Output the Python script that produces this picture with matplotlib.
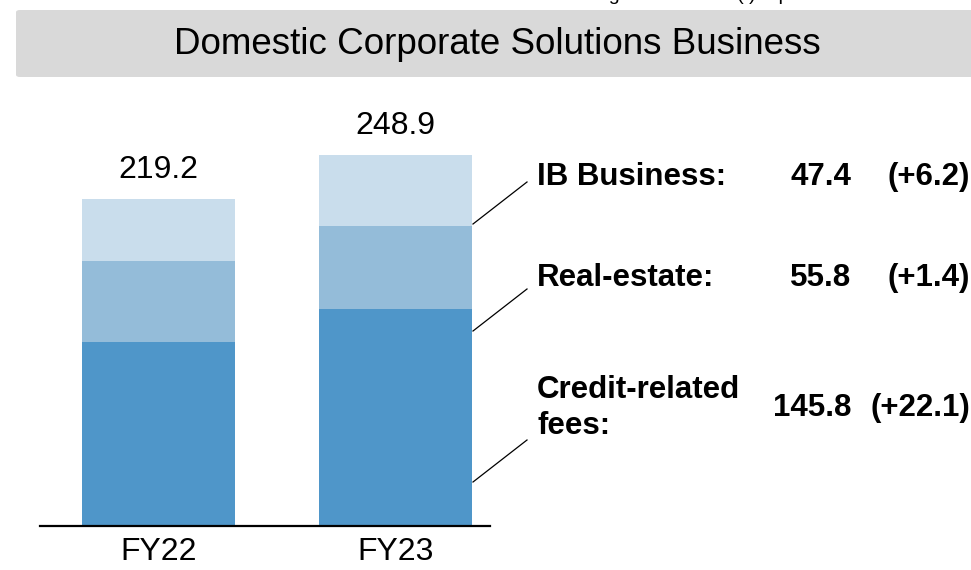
import numpy as np
import matplotlib
matplotlib.use("Agg")
import matplotlib.pyplot as plt
from matplotlib.patches import FancyBboxPatch

plt.rcParams['font.family'] = ['Liberation Sans', 'DejaVu Sans']

# data (billions of yen)
years = ["FY22", "FY23"]
segments = ["Credit-related fees", "Real-estate", "IB Business"]
credit = [123.7, 145.8]
real_estate = [54.4, 55.8]
ib = [41.2, 47.4]
totals = ["219.2", "248.9"]
seg_labels = ["IB Business:", "Real-estate:", "Credit-related\nfees:"]
seg_values = ["47.4", "55.8", "145.8"]
seg_changes = ["(+6.2)", "(+1.4)", "(+22.1)"]
note = "Change amounts in ( ) represent YoY"

colors = ["#4f96c9", "#94bcd9", "#c9ddec"]

W, H = 971, 570
fig = plt.figure(figsize=(W / 100, H / 100), dpi=100)


def fx(px):
    return px / W


def fy(py):
    return 1 - py / H


# axes: baseline at y=526 px, x from 40 to 490 px
ax = fig.add_axes([fx(40), fy(526), fx(450), (526 - 100) / H])
x = np.arange(len(years))
w = 0.646
bottom = np.zeros(len(years))
for vals, c in zip([credit, real_estate, ib], colors):
    ax.bar(x, vals, w, bottom=bottom, color=c, edgecolor='none')
    bottom += np.array(vals)

for xi, top, lab in zip(x, bottom, totals):
    ax.annotate(lab, (xi, top), xytext=(0, 21), textcoords='offset points',
                ha='center', va='center', fontsize=23)

ax.set_xlim(-0.5, 1.399)
ax.set_ylim(0, 286)
ax.set_xticks(x)
ax.set_xticklabels(years, fontsize=23)
ax.tick_params(axis='x', length=0, pad=8)
ax.set_yticks([])
for s in ['top', 'right', 'left']:
    ax.spines[s].set_visible(False)
ax.spines['bottom'].set_linewidth(1.6)

# title banner
box = FancyBboxPatch((fx(16), fy(77)), fx(980), (77 - 10) / H,
                     boxstyle="round,pad=0,rounding_size=0.004",
                     transform=fig.transFigure, facecolor="#d9d9d9",
                     edgecolor='none', zorder=0)
fig.patches.append(box)
fig.text(fx(497), fy(44), "Domestic Corporate Solutions Business",
         ha='center', va='center', fontsize=26.5)

# note at the very top, cut off by the edge as in the source
fig.text(fx(562), 1.0, note, ha='left', va='baseline', fontsize=14)

# right-hand segment labels
label_y = [177, 278, 408]
line_end_y = [182, 289, 440]
for lab, val, chg, ly, le in zip(seg_labels, seg_values, seg_changes,
                                  label_y, line_end_y):
    fig.text(fx(537), fy(ly), lab, ha='left', va='center', fontsize=22.5,
             fontweight='bold', linespacing=1.3)
    fig.text(fx(851), fy(ly), val, ha='right', va='center', fontsize=22.5,
             fontweight='bold')
    fig.text(fx(970), fy(ly), chg, ha='right', va='center', fontsize=22.5,
             fontweight='bold')
    fig.add_artist(plt.Line2D([fx(473), fx(527)], [fy(le + 42), fy(le)],
                              transform=fig.transFigure, color='black',
                              lw=0.9))

fig.savefig("out.png", dpi=100)
